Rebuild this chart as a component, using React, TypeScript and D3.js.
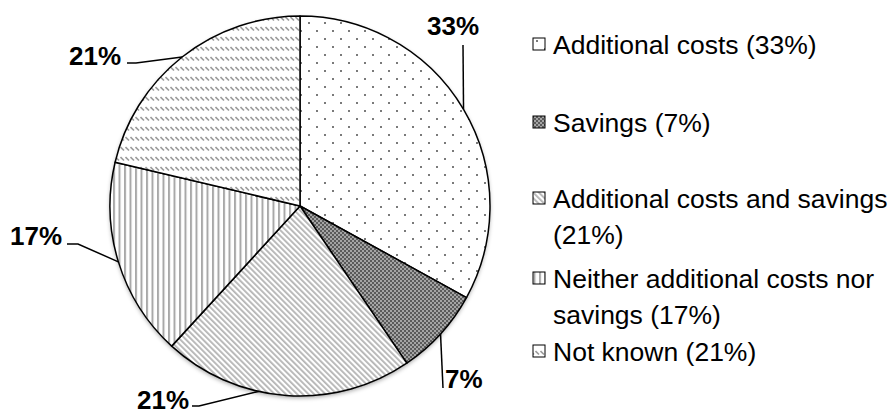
import React from 'react';
import * as d3 from 'd3';

const categories = [
  'Additional costs',
  'Savings',
  'Additional costs and savings',
  'Neither additional costs nor savings',
  'Not known',
];
const values = [33.0, 7.5, 21.3, 16.9, 21.3];
const pctLabels = ['33%', '7%', '21%', '17%', '21%'];
const legendLines = [
  ['Additional costs (33%)'],
  ['Savings (7%)'],
  ['Additional costs and savings', '(21%)'],
  ['Neither additional costs nor', 'savings (17%)'],
  ['Not known (21%)'],
];

const W = 890;
const H = 416;
const CX = 300;
const CY = 206;
const R = 190;

// label layout (positions of the data labels and leader elbows)
const labelLayout = [
  { x: 453, y: 35, anchor: 'middle', elbow: [[463, 45]], frac: 0.5 },
  { x: 445, y: 388, anchor: 'start', elbow: [[443, 388]], frac: 0.5 },
  { x: 137, y: 409, anchor: 'start', elbow: [[192, 406], [199, 406]], frac: 0.61 },
  { x: 10, y: 245, anchor: 'start', elbow: [[67, 244], [78, 244]], frac: 0.5 },
  { x: 69, y: 65, anchor: 'start', elbow: [[127, 63], [136, 63]], frac: 0.5 },
];

const legendX = 533;
const legendBaselines = [54, 132, 208, 288, 361];
const legendLineH = 36;

function Patterns() {
  return (
    <defs>
      <pattern id="p0" patternUnits="userSpaceOnUse" width={16} height={16}>
        <rect width={16} height={16} fill="#fff" />
        <rect x={0} y={0} width={2} height={2} fill="#7a7a7a" />
        <rect x={8} y={8} width={2} height={2} fill="#7a7a7a" />
      </pattern>
      <pattern id="p1" patternUnits="userSpaceOnUse" width={4} height={4}>
        <rect width={4} height={4} fill="#a4a4a4" />
        <rect x={0} y={0} width={2} height={2} fill="#5a5a5a" />
        <rect x={2} y={2} width={2} height={2} fill="#5a5a5a" />
      </pattern>
      <pattern id="p2" patternUnits="userSpaceOnUse" width={4} height={4} patternTransform="rotate(-45)">
        <rect width={4} height={4} fill="#fff" />
        <rect x={0} y={0} width={1.8} height={4} fill="#b4b4b4" />
      </pattern>
      <pattern id="p3" patternUnits="userSpaceOnUse" width={5.5} height={5.5}>
        <rect width={5.5} height={5.5} fill="#fff" />
        <rect x={0} y={0} width={2} height={5.5} fill="#a8a8a8" />
      </pattern>
      <pattern id="p4" patternUnits="userSpaceOnUse" width={5} height={10}>
        <rect width={5} height={10} fill="#fff" />
        <line x1={0.5} y1={1} x2={4} y2={4.5} stroke="#9a9a9a" strokeWidth={1.6} />
      </pattern>
      <filter id="shadow" x="-10%" y="-10%" width="120%" height="120%">
        <feDropShadow dx={0} dy={2} stdDeviation={2} floodColor="#000" floodOpacity={0.35} />
      </filter>
    </defs>
  );
}

export default function App() {
  const pie = d3
    .pie<number>()
    .sort(null)
    .startAngle(0)
    .endAngle(2 * Math.PI)
    .value((d) => d);
  const arcs = pie(values);
  const arcGen = d3.arc<d3.PieArcDatum<number>>().innerRadius(0).outerRadius(R);

  const pointAt = (a: number): [number, number] => [CX + R * Math.sin(a), CY - R * Math.cos(a)];

  return (
    <svg
      width={W}
      height={H}
      style={{ position: 'absolute', left: 0, top: 0, background: '#fff' }}
      fontFamily="'Liberation Sans', Arial, sans-serif"
    >
      <Patterns />
      <circle cx={CX} cy={CY} r={R} fill="#fff" filter="url(#shadow)" />
      <g transform={`translate(${CX},${CY})`}>
        {arcs.map((a, i) => (
          <path key={categories[i]} d={arcGen(a) || ''} fill={`url(#p${i})`} stroke="#000" strokeWidth={1.5} strokeLinejoin="round" />
        ))}
      </g>
      {arcs.map((a, i) => {
        const L = labelLayout[i];
        const ang = a.startAngle + (a.endAngle - a.startAngle) * L.frac;
        const p0 = pointAt(ang);
        const pts: [number, number][] = [p0, ...([...L.elbow].reverse() as [number, number][])];
        const line = d3.line()(pts) || '';
        return (
          <g key={`lbl${i}`}>
            <path d={line} fill="none" stroke="#000" strokeWidth={1.5} />
            <text x={L.x} y={L.y} textAnchor={L.anchor as any} fontWeight="bold" fontSize={26} fill="#000">
              {pctLabels[i]}
            </text>
          </g>
        );
      })}
      {legendLines.map((lines, i) => (
        <g key={`leg${i}`}>
          <rect
            x={legendX}
            y={legendBaselines[i] - 16}
            width={12}
            height={12}
            fill={`url(#p${i})`}
            stroke="#000"
            strokeWidth={1}
          />
          {lines.map((t, j) => (
            <text key={j} x={legendX + 20} y={legendBaselines[i] + j * legendLineH} fontSize={26.5} fill="#000">
              {t}
            </text>
          ))}
        </g>
      ))}
    </svg>
  );
}
